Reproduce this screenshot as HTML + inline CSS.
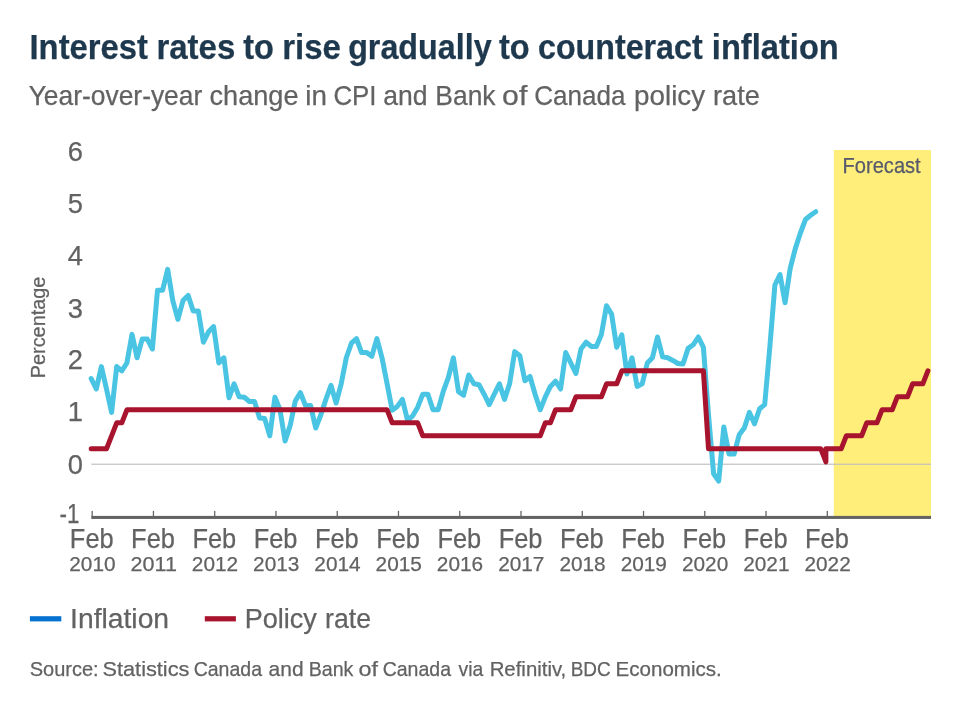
<!DOCTYPE html>
<html lang="en"><head><meta charset="utf-8"><title>Interest rates to rise gradually to counteract inflation</title>
<style>html,body{margin:0;padding:0;background:#fff}svg{display:block}</style></head>
<body>
<svg width="960" height="714" viewBox="0 0 960 714">
<rect width="960" height="714" fill="#ffffff"/>
<text y="58.8" font-family="Liberation Sans, sans-serif" font-size="34.8" font-weight="700" fill="#1e384e" stroke="#1e384e" stroke-width="0.25"><tspan x="29.51" textLength="118.49" lengthAdjust="spacingAndGlyphs">Interest</tspan> <tspan x="156.38" textLength="78.95" lengthAdjust="spacingAndGlyphs">rates</tspan> <tspan x="243.19" textLength="30.76" lengthAdjust="spacingAndGlyphs">to</tspan> <tspan x="282.25" textLength="58.72" lengthAdjust="spacingAndGlyphs">rise</tspan> <tspan x="348.16" textLength="143.44" lengthAdjust="spacingAndGlyphs">gradually</tspan> <tspan x="498.94" textLength="30.76" lengthAdjust="spacingAndGlyphs">to</tspan> <tspan x="537.97" textLength="164.68" lengthAdjust="spacingAndGlyphs">counteract</tspan> <tspan x="711.85" textLength="126.97" lengthAdjust="spacingAndGlyphs">inflation</tspan></text>
<text y="104.7" font-family="Liberation Sans, sans-serif" font-size="27.8" font-weight="400" fill="#626262" stroke="#626262" stroke-width="0.25"><tspan x="28.65" textLength="173.64" lengthAdjust="spacingAndGlyphs">Year-over-year</tspan> <tspan x="209.47" textLength="89.08" lengthAdjust="spacingAndGlyphs">change</tspan> <tspan x="305.37" textLength="21.62" lengthAdjust="spacingAndGlyphs">in</tspan> <tspan x="333.42" textLength="43.08" lengthAdjust="spacingAndGlyphs">CPI</tspan> <tspan x="383.35" textLength="44.25" lengthAdjust="spacingAndGlyphs">and</tspan> <tspan x="435.36" textLength="60.19" lengthAdjust="spacingAndGlyphs">Bank</tspan> <tspan x="502.12" textLength="25.18" lengthAdjust="spacingAndGlyphs">of</tspan> <tspan x="534.25" textLength="91.28" lengthAdjust="spacingAndGlyphs">Canada</tspan> <tspan x="634.10" textLength="71.02" lengthAdjust="spacingAndGlyphs">policy</tspan> <tspan x="713.06" textLength="46.83" lengthAdjust="spacingAndGlyphs">rate</tspan></text>
<rect x="833.8" y="150" width="97.2" height="367" fill="#ffee7a"/>
<text y="172.75" font-family="Liberation Sans, sans-serif" font-size="21.2" font-weight="400" fill="#585a6c" stroke="#585a6c" stroke-width="0.25"><tspan x="842.55" textLength="78.16" lengthAdjust="spacingAndGlyphs">Forecast</tspan></text>
<text x="83.0" y="160.6" font-family="Liberation Sans, sans-serif" font-size="27.3" fill="#626262" stroke="#626262" stroke-width="0.25" text-anchor="end">6</text>
<text x="83.0" y="212.6" font-family="Liberation Sans, sans-serif" font-size="27.3" fill="#626262" stroke="#626262" stroke-width="0.25" text-anchor="end">5</text>
<text x="83.0" y="265.1" font-family="Liberation Sans, sans-serif" font-size="27.3" fill="#626262" stroke="#626262" stroke-width="0.25" text-anchor="end">4</text>
<text x="83.0" y="317.5" font-family="Liberation Sans, sans-serif" font-size="27.3" fill="#626262" stroke="#626262" stroke-width="0.25" text-anchor="end">3</text>
<text x="83.0" y="369.4" font-family="Liberation Sans, sans-serif" font-size="27.3" fill="#626262" stroke="#626262" stroke-width="0.25" text-anchor="end">2</text>
<text x="83.0" y="421.4" font-family="Liberation Sans, sans-serif" font-size="27.3" fill="#626262" stroke="#626262" stroke-width="0.25" text-anchor="end">1</text>
<text x="83.0" y="473.5" font-family="Liberation Sans, sans-serif" font-size="27.3" fill="#626262" stroke="#626262" stroke-width="0.25" text-anchor="end">0</text>
<text y="522.6" font-family="Liberation Sans, sans-serif" font-size="27.9" font-weight="400" fill="#626262" stroke="#626262" stroke-width="0.25"><tspan x="59.50" textLength="19.9" lengthAdjust="spacingAndGlyphs">-1</tspan></text>
<g transform="translate(44.5 377.3) rotate(-90)"><text y="0" font-family="Liberation Sans, sans-serif" font-size="20.3" font-weight="400" fill="#626262" stroke="#626262" stroke-width="0.25"><tspan x="-0.98" textLength="101.7" lengthAdjust="spacingAndGlyphs">Percentage</tspan></text></g>
<rect x="91.3" y="463.65" width="839.7" height="1.15" fill="#bfbfbf"/>
<path d="M91.2 378.6 L96.3 389.0 L101.4 366.6 L106.5 389.0 L111.6 412.4 L116.7 366.6 L121.8 370.8 L126.9 363.0 L132.0 334.4 L137.1 357.8 L142.2 339.1 L147.3 339.1 L152.4 349.0 L157.5 290.2 L162.6 290.2 L167.7 269.4 L172.8 300.6 L177.9 319.3 L183.0 300.6 L188.1 295.4 L193.2 311.0 L198.3 311.0 L203.4 342.2 L208.5 331.8 L213.6 326.6 L218.8 363.0 L223.9 357.8 L229.0 397.8 L234.1 383.8 L239.2 396.8 L244.3 397.3 L249.4 401.5 L254.5 401.5 L259.6 418.1 L264.7 418.6 L269.8 435.8 L274.9 397.3 L280.0 409.8 L285.1 441.0 L290.2 425.4 L295.3 401.0 L300.4 392.6 L305.5 405.6 L310.6 405.6 L315.7 428.0 L320.8 415.0 L325.9 399.4 L331.0 385.4 L336.1 403.0 L341.2 383.8 L346.3 357.8 L351.4 343.2 L356.5 338.6 L361.6 352.6 L366.7 352.6 L371.8 356.2 L376.9 338.6 L382.0 357.8 L387.1 383.8 L392.2 410.3 L397.3 406.4 L402.4 399.4 L407.5 420.2 L412.6 416.0 L417.7 407.2 L422.8 394.2 L427.9 394.2 L433.0 409.8 L438.1 409.8 L443.2 391.6 L448.3 377.6 L453.4 357.8 L458.5 391.6 L463.6 395.2 L468.7 375.0 L473.9 383.8 L479.0 384.8 L484.1 394.2 L489.2 404.6 L494.3 394.2 L499.4 383.8 L504.5 399.4 L509.6 383.8 L514.7 351.6 L519.8 355.7 L524.9 380.7 L530.0 376.5 L535.1 394.2 L540.2 409.8 L545.3 396.8 L550.4 386.4 L555.5 381.2 L560.6 389.0 L565.7 352.6 L570.8 363.0 L575.9 373.4 L581.0 349.0 L586.1 342.2 L591.2 346.4 L596.3 346.4 L601.4 334.4 L606.5 305.8 L611.6 314.1 L616.7 347.4 L621.8 334.9 L626.9 373.9 L632.0 357.8 L637.1 386.4 L642.2 383.8 L647.3 363.0 L652.4 357.8 L657.5 337.0 L662.6 356.8 L667.7 357.8 L672.8 360.4 L677.9 363.5 L683.0 364.0 L688.1 348.4 L693.2 344.8 L698.3 337.0 L703.4 347.4 L708.5 415.0 L713.6 473.8 L718.7 481.0 L723.8 427.0 L729.0 454.0 L734.1 454.0 L739.2 434.8 L744.3 428.0 L749.4 412.4 L754.5 423.8 L759.6 408.8 L764.7 404.6 L769.8 347.4 L774.9 285.0 L780.0 274.6 L785.1 302.7 L790.2 268.4 L795.3 248.6 L800.4 233.0 L805.5 219.5 L810.6 215.3 L815.7 211.7" stroke="#49c4e2" fill="none" stroke-width="5" stroke-linejoin="round" stroke-linecap="round"/>
<path d="M91.2 448.8 L106.5 448.8 L116.7 422.8 L121.8 422.8 L126.9 409.8 L387.1 409.8 L392.2 422.8 L417.7 422.8 L422.8 435.8 L540.2 435.8 L545.3 422.8 L550.4 422.8 L555.5 409.8 L570.8 409.8 L575.9 396.8 L601.4 396.8 L606.5 383.8 L616.7 383.8 L621.8 370.8 L703.4 370.8 L708.5 448.8 L820.8 448.8 L825.9 461.8 L825.9 448.8 L841.2 448.8 L846.3 435.8 L861.6 435.8 L866.7 422.8 L876.9 422.8 L882.0 409.8 L892.2 409.8 L897.3 396.8 L907.5 396.8 L912.6 383.8 L922.8 383.8 L927.9 370.8" stroke="#a8142e" fill="none" stroke-width="5" stroke-linejoin="round" stroke-linecap="round"/>
<rect x="91.3" y="515.9" width="839.7" height="3.05" fill="#636363"/>
<rect x="91.55" y="510.9" width="1.25" height="6" fill="#636363"/>
<text y="547.7" font-family="Liberation Sans, sans-serif" font-size="27.7" font-weight="400" fill="#626262" stroke="#626262" stroke-width="0.25"><tspan x="69.86" textLength="43.8" lengthAdjust="spacingAndGlyphs">Feb</tspan></text>
<text y="571.4" font-family="Liberation Sans, sans-serif" font-size="21.1" font-weight="400" fill="#626262" stroke="#626262" stroke-width="0.25"><tspan x="69.31" textLength="46.31" lengthAdjust="spacingAndGlyphs">2010</tspan></text>
<rect x="152.81" y="510.9" width="1.25" height="6" fill="#636363"/>
<text y="547.7" font-family="Liberation Sans, sans-serif" font-size="27.7" font-weight="400" fill="#626262" stroke="#626262" stroke-width="0.25"><tspan x="131.12" textLength="43.8" lengthAdjust="spacingAndGlyphs">Feb</tspan></text>
<text y="571.4" font-family="Liberation Sans, sans-serif" font-size="21.1" font-weight="400" fill="#626262" stroke="#626262" stroke-width="0.25"><tspan x="130.57" textLength="46.31" lengthAdjust="spacingAndGlyphs">2011</tspan></text>
<rect x="214.07" y="510.9" width="1.25" height="6" fill="#636363"/>
<text y="547.7" font-family="Liberation Sans, sans-serif" font-size="27.7" font-weight="400" fill="#626262" stroke="#626262" stroke-width="0.25"><tspan x="192.38" textLength="43.8" lengthAdjust="spacingAndGlyphs">Feb</tspan></text>
<text y="571.4" font-family="Liberation Sans, sans-serif" font-size="21.1" font-weight="400" fill="#626262" stroke="#626262" stroke-width="0.25"><tspan x="191.83" textLength="46.31" lengthAdjust="spacingAndGlyphs">2012</tspan></text>
<rect x="275.33" y="510.9" width="1.25" height="6" fill="#636363"/>
<text y="547.7" font-family="Liberation Sans, sans-serif" font-size="27.7" font-weight="400" fill="#626262" stroke="#626262" stroke-width="0.25"><tspan x="253.64" textLength="43.8" lengthAdjust="spacingAndGlyphs">Feb</tspan></text>
<text y="571.4" font-family="Liberation Sans, sans-serif" font-size="21.1" font-weight="400" fill="#626262" stroke="#626262" stroke-width="0.25"><tspan x="253.09" textLength="46.31" lengthAdjust="spacingAndGlyphs">2013</tspan></text>
<rect x="336.59" y="510.9" width="1.25" height="6" fill="#636363"/>
<text y="547.7" font-family="Liberation Sans, sans-serif" font-size="27.7" font-weight="400" fill="#626262" stroke="#626262" stroke-width="0.25"><tspan x="314.90" textLength="43.8" lengthAdjust="spacingAndGlyphs">Feb</tspan></text>
<text y="571.4" font-family="Liberation Sans, sans-serif" font-size="21.1" font-weight="400" fill="#626262" stroke="#626262" stroke-width="0.25"><tspan x="314.35" textLength="46.31" lengthAdjust="spacingAndGlyphs">2014</tspan></text>
<rect x="397.85" y="510.9" width="1.25" height="6" fill="#636363"/>
<text y="547.7" font-family="Liberation Sans, sans-serif" font-size="27.7" font-weight="400" fill="#626262" stroke="#626262" stroke-width="0.25"><tspan x="376.16" textLength="43.8" lengthAdjust="spacingAndGlyphs">Feb</tspan></text>
<text y="571.4" font-family="Liberation Sans, sans-serif" font-size="21.1" font-weight="400" fill="#626262" stroke="#626262" stroke-width="0.25"><tspan x="375.61" textLength="46.31" lengthAdjust="spacingAndGlyphs">2015</tspan></text>
<rect x="459.11" y="510.9" width="1.25" height="6" fill="#636363"/>
<text y="547.7" font-family="Liberation Sans, sans-serif" font-size="27.7" font-weight="400" fill="#626262" stroke="#626262" stroke-width="0.25"><tspan x="437.42" textLength="43.8" lengthAdjust="spacingAndGlyphs">Feb</tspan></text>
<text y="571.4" font-family="Liberation Sans, sans-serif" font-size="21.1" font-weight="400" fill="#626262" stroke="#626262" stroke-width="0.25"><tspan x="436.87" textLength="46.31" lengthAdjust="spacingAndGlyphs">2016</tspan></text>
<rect x="520.37" y="510.9" width="1.25" height="6" fill="#636363"/>
<text y="547.7" font-family="Liberation Sans, sans-serif" font-size="27.7" font-weight="400" fill="#626262" stroke="#626262" stroke-width="0.25"><tspan x="498.68" textLength="43.8" lengthAdjust="spacingAndGlyphs">Feb</tspan></text>
<text y="571.4" font-family="Liberation Sans, sans-serif" font-size="21.1" font-weight="400" fill="#626262" stroke="#626262" stroke-width="0.25"><tspan x="498.13" textLength="46.31" lengthAdjust="spacingAndGlyphs">2017</tspan></text>
<rect x="581.63" y="510.9" width="1.25" height="6" fill="#636363"/>
<text y="547.7" font-family="Liberation Sans, sans-serif" font-size="27.7" font-weight="400" fill="#626262" stroke="#626262" stroke-width="0.25"><tspan x="559.94" textLength="43.8" lengthAdjust="spacingAndGlyphs">Feb</tspan></text>
<text y="571.4" font-family="Liberation Sans, sans-serif" font-size="21.1" font-weight="400" fill="#626262" stroke="#626262" stroke-width="0.25"><tspan x="559.39" textLength="46.31" lengthAdjust="spacingAndGlyphs">2018</tspan></text>
<rect x="642.89" y="510.9" width="1.25" height="6" fill="#636363"/>
<text y="547.7" font-family="Liberation Sans, sans-serif" font-size="27.7" font-weight="400" fill="#626262" stroke="#626262" stroke-width="0.25"><tspan x="621.20" textLength="43.8" lengthAdjust="spacingAndGlyphs">Feb</tspan></text>
<text y="571.4" font-family="Liberation Sans, sans-serif" font-size="21.1" font-weight="400" fill="#626262" stroke="#626262" stroke-width="0.25"><tspan x="620.65" textLength="46.31" lengthAdjust="spacingAndGlyphs">2019</tspan></text>
<rect x="704.15" y="510.9" width="1.25" height="6" fill="#636363"/>
<text y="547.7" font-family="Liberation Sans, sans-serif" font-size="27.7" font-weight="400" fill="#626262" stroke="#626262" stroke-width="0.25"><tspan x="682.46" textLength="43.8" lengthAdjust="spacingAndGlyphs">Feb</tspan></text>
<text y="571.4" font-family="Liberation Sans, sans-serif" font-size="21.1" font-weight="400" fill="#626262" stroke="#626262" stroke-width="0.25"><tspan x="681.91" textLength="46.31" lengthAdjust="spacingAndGlyphs">2020</tspan></text>
<rect x="765.41" y="510.9" width="1.25" height="6" fill="#636363"/>
<text y="547.7" font-family="Liberation Sans, sans-serif" font-size="27.7" font-weight="400" fill="#626262" stroke="#626262" stroke-width="0.25"><tspan x="743.72" textLength="43.8" lengthAdjust="spacingAndGlyphs">Feb</tspan></text>
<text y="571.4" font-family="Liberation Sans, sans-serif" font-size="21.1" font-weight="400" fill="#626262" stroke="#626262" stroke-width="0.25"><tspan x="743.17" textLength="46.31" lengthAdjust="spacingAndGlyphs">2021</tspan></text>
<rect x="826.67" y="510.9" width="1.25" height="6" fill="#636363"/>
<text y="547.7" font-family="Liberation Sans, sans-serif" font-size="27.7" font-weight="400" fill="#626262" stroke="#626262" stroke-width="0.25"><tspan x="804.98" textLength="43.8" lengthAdjust="spacingAndGlyphs">Feb</tspan></text>
<text y="571.4" font-family="Liberation Sans, sans-serif" font-size="21.1" font-weight="400" fill="#626262" stroke="#626262" stroke-width="0.25"><tspan x="804.43" textLength="46.31" lengthAdjust="spacingAndGlyphs">2022</tspan></text>
<rect x="29.9" y="616.2" width="31.4" height="5.2" fill="#0571d0"/>
<text y="627.7" font-family="Liberation Sans, sans-serif" font-size="27.7" font-weight="400" fill="#626262" stroke="#626262" stroke-width="0.25"><tspan x="70.06" textLength="99.05" lengthAdjust="spacingAndGlyphs">Inflation</tspan></text>
<rect x="204.8" y="616.2" width="31.1" height="5.2" fill="#a8142e"/>
<text y="627.7" font-family="Liberation Sans, sans-serif" font-size="27.7" font-weight="400" fill="#626262" stroke="#626262" stroke-width="0.25"><tspan x="244.64" textLength="72.22" lengthAdjust="spacingAndGlyphs">Policy</tspan> <tspan x="325.09" textLength="45.9" lengthAdjust="spacingAndGlyphs">rate</tspan></text>
<text y="675.7" font-family="Liberation Sans, sans-serif" font-size="20.95" font-weight="400" fill="#626262" stroke="#626262" stroke-width="0.25"><tspan x="29.64" textLength="69.08" lengthAdjust="spacingAndGlyphs">Source:</tspan> <tspan x="102.56" textLength="86.85" lengthAdjust="spacingAndGlyphs">Statistics</tspan> <tspan x="193.67" textLength="68.32" lengthAdjust="spacingAndGlyphs">Canada</tspan> <tspan x="268.60" textLength="34.94" lengthAdjust="spacingAndGlyphs">and</tspan> <tspan x="308.66" textLength="44.69" lengthAdjust="spacingAndGlyphs">Bank</tspan> <tspan x="358.48" textLength="19.52" lengthAdjust="spacingAndGlyphs">of</tspan> <tspan x="382.67" textLength="68.32" lengthAdjust="spacingAndGlyphs">Canada</tspan> <tspan x="458.60" textLength="24.78" lengthAdjust="spacingAndGlyphs">via</tspan> <tspan x="489.63" textLength="76.66" lengthAdjust="spacingAndGlyphs">Refinitiv,</tspan> <tspan x="570.70" textLength="40.01" lengthAdjust="spacingAndGlyphs">BDC</tspan> <tspan x="615.62" textLength="106.18" lengthAdjust="spacingAndGlyphs">Economics.</tspan></text>
</svg>
</body></html>
